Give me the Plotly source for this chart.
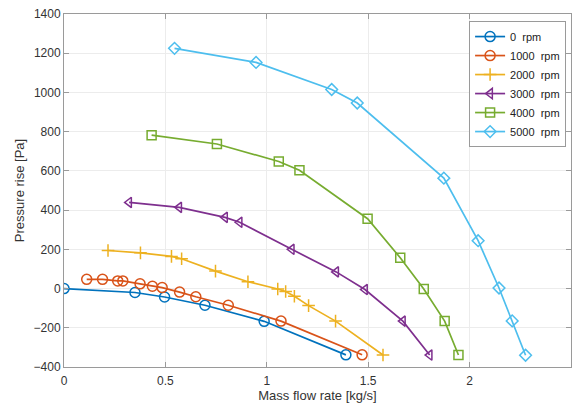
import plotly.graph_objects as go

# Fan characteristic curves: pressure rise vs mass flow rate at several speeds
speeds = ["0  rpm", "1000  rpm", "2000  rpm", "3000  rpm", "4000  rpm", "5000  rpm"]

flow_0 = [0.0, 0.35, 0.496, 0.695, 0.987, 1.39]
dp_0 = [0, -20, -43, -85, -167, -338]

flow_1000 = [0.112, 0.19, 0.265, 0.29, 0.375, 0.436, 0.484, 0.57, 0.65, 0.81, 1.07, 1.47]
dp_1000 = [47, 47, 39, 39, 24, 12, 5, -18, -42, -85, -166, -338]

flow_2000 = [0.217, 0.377, 0.53, 0.58, 0.747, 0.907, 1.054, 1.093, 1.136, 1.206, 1.339, 1.573]
dp_2000 = [194, 182, 164, 152, 89, 35, -2, -15, -39, -87, -166, -339]

flow_3000 = [0.321, 0.568, 0.794, 0.866, 1.123, 1.342, 1.484, 1.671, 1.803]
dp_3000 = [439, 414, 363, 338, 200, 85, -5, -166, -339]

flow_4000 = [0.432, 0.754, 1.059, 1.161, 1.497, 1.658, 1.774, 1.877, 1.945]
dp_4000 = [782, 737, 648, 603, 356, 157, -2, -166, -339]

flow_5000 = [0.545, 0.947, 1.32, 1.446, 1.873, 2.042, 2.145, 2.21, 2.276]
dp_5000 = [1225, 1153, 1015, 946, 563, 244, 3, -165, -340]

x_ticks = [0, 0.5, 1, 1.5, 2, 2.5]
x_tick_text = ["0", "0.5", "1", "1.5", "2", "2.5"]
y_ticks = [-400, -200, 0, 200, 400, 600, 800, 1000, 1200, 1400]

series = [
    (flow_0, dp_0, "#0072BD", "circle-open"),
    (flow_1000, dp_1000, "#D95319", "circle-open"),
    (flow_2000, dp_2000, "#EDB120", "cross-thin-open"),
    (flow_3000, dp_3000, "#7E2F8E", "triangle-left-open"),
    (flow_4000, dp_4000, "#77AC30", "square-open"),
    (flow_5000, dp_5000, "#4DBEEE", "diamond-open"),
]

fig = go.Figure()
for name, (xs, ys, color, sym) in zip(speeds, series):
    fig.add_trace(go.Scatter(
        x=xs, y=ys, name=name, mode="lines+markers",
        line=dict(color=color, width=1.7),
        marker=dict(symbol=sym, size=10 if "circle" in sym else 9,
                    color=color, line=dict(color=color, width=1.5)),
    ))

axis_common = dict(
    showline=True, linecolor="#9a9a9a", linewidth=1, mirror="ticks",
    ticks="inside", ticklen=5, tickcolor="#9a9a9a",
    showgrid=True, gridcolor="#ececec", gridwidth=1,
    zeroline=False,
    tickfont=dict(family="Liberation Sans, Arial", size=12, color="#333333"),
    title_font=dict(family="Liberation Sans, Arial", size=13, color="#333333"),
)

fig.update_xaxes(range=[0, 2.5], tickvals=x_ticks, ticktext=x_tick_text,
                 title_text="Mass flow rate [kg/s]", title_standoff=2,
                 ticklabelstandoff=3, **axis_common)
fig.update_yaxes(range=[-400, 1400], tickvals=y_ticks,
                 title_text="Pressure rise [Pa]", title_standoff=6, **axis_common)

fig.update_layout(
    width=579, height=407,
    margin=dict(l=64, r=7, t=11, b=40),
    paper_bgcolor="white", plot_bgcolor="white",
    legend=dict(
        x=0.799, y=0.98, xanchor="left", yanchor="top",
        bgcolor="white", bordercolor="#9a9a9a", borderwidth=1,
        font=dict(family="Liberation Sans, Arial", size=11, color="#222222"),
        itemwidth=30, tracegroupgap=0,
    ),
    showlegend=True,
)

fig.write_html("out.html")
